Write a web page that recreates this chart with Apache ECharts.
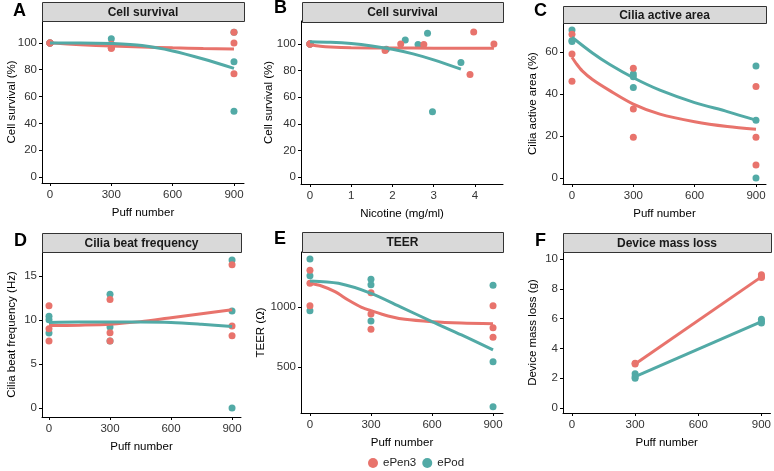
<!DOCTYPE html>
<html><head><meta charset="utf-8">
<script src="https://cdn.jsdelivr.net/npm/echarts@6/dist/echarts.min.js"></script>
<style>html,body{margin:0;padding:0;background:#fff}#c{width:774px;height:471px}</style>
</head><body><div id="c"></div>
<script>
// ---------------- data ----------------
const groups = ['ePen3', 'ePod'];
const panelTitles = ['Cell survival', 'Cell survival', 'Cilia active area', 'Cilia beat frequency', 'TEER', 'Device mass loss'];
const panelLetters = ['A', 'B', 'C', 'D', 'E', 'F'];
const xNames = ['Puff number', 'Nicotine (mg/ml)', 'Puff number', 'Puff number', 'Puff number', 'Puff number'];
const yNames = ['Cell survival (%)', 'Cell survival (%)', 'Cilia active area (%)', 'Cilia beat frequency (Hz)', 'TEER (\u03A9)', 'Device mass loss (g)'];
const puffTicks = [0, 300, 600, 900];
const nicotineTicks = [0, 1, 2, 3, 4];
const survivalTicks = [0, 20, 40, 60, 80, 100];
const ciliaAreaTicks = [0, 20, 40, 60];
const cbfTicks = [0, 5, 10, 15];
const teerTicks = [500, 1000];
const massTicks = [0, 2, 4, 6, 8, 10];

// A: cell survival vs puff number
const puffA = [0, 0, 0, 300, 300, 300, 900, 900, 900];
const survA_pen = [100, 100, 100, 99, 96, 96, 108, 100, 77];
const survA_pod = [100, 100, 100, 103, 99, 97, 108, 86, 49];
const fitA_x = [0, 150, 300, 450, 600, 750, 900];
const fitA_pen = [100, 98.6, 97.6, 96.9, 96.3, 95.8, 95.4];
const fitA_pod = [100, 100, 99.5, 98, 94, 88, 81];

// B: cell survival vs nicotine
const nicB_pen = [0, 0, 0, 1.82, 2.2, 2.76, 3.88, 3.97, 4.46];
const survB_pen = [100, 100, 100, 95, 100, 99.5, 77, 109, 100];
const nicB_pod = [0, 0, 0, 1.85, 2.31, 2.62, 2.85, 2.97, 3.66];
const survB_pod = [100, 100, 100, 96, 103, 99.5, 108, 49, 86];
const fitB_pen_x = [0, 0.25, 0.5, 1, 2, 3, 4, 4.46];
const fitB_pen = [99.3, 98.2, 97.6, 97.1, 96.9, 96.8, 96.7, 96.7];
const fitB_pod_x = [0, 0.5, 1, 1.5, 2, 2.5, 3, 3.66];
const fitB_pod = [101.7, 101.3, 100.3, 98.5, 96, 92.5, 88, 81];

// C: cilia active area
const puffC = [0, 0, 0, 300, 300, 300, 900, 900, 900];
const areaC_pen = [68.5, 59, 46, 52.3, 32.8, 19.4, 43.6, 19.4, 6.2];
const areaC_pod = [70.5, 65.5, 65, 49.5, 48.2, 43.1, 53.3, 27.5, 0];
const fitC_pen_x = [0, 20, 50, 100, 185, 300, 430, 600, 760, 900];
const fitC_pen = [57.5, 54.6, 51, 46.9, 41.6, 35.2, 30.4, 26.8, 24.5, 23.2];
const fitC_pod_x = [0, 100, 185, 300, 430, 600, 760, 900];
const fitC_pod = [67, 59.5, 54, 47.7, 41.8, 35.9, 31.6, 27.5];

// D: cilia beat frequency
const puffD = [0, 0, 0, 300, 300, 300, 900, 900, 900];
const cbfD_pen = [11.6, 9.0, 7.6, 12.3, 8.55, 7.6, 16.25, 9.3, 8.2];
const cbfD_pod = [10.4, 10.0, 8.5, 12.9, 9.2, 7.6, 16.8, 11.0, 0];
const fitD_x = [0, 150, 300, 450, 600, 750, 900];
const fitD_pen = [9.35, 9.4, 9.5, 9.8, 10.25, 10.7, 11.15];
const fitD_pod = [9.7, 9.75, 9.75, 9.75, 9.7, 9.5, 9.25];

// E: TEER
const puffE = [0, 0, 0, 300, 300, 300, 900, 900, 900];
const teerE_pen = [1306, 1197, 1011, 1119, 942, 814, 1011, 828, 747];
const teerE_pod = [1400, 1261, 969, 1231, 1186, 883, 1181, 544, 169];
const fitE_pen_x = [0, 57, 123, 188, 254, 300, 384, 467, 600, 744, 900];
const fitE_pen = [1197, 1175, 1128, 1058, 997, 969, 925, 897, 878, 867, 861];
const fitE_pod_x = [0, 140, 300, 450, 600, 745, 900];
const fitE_pod = [1217, 1197, 1114, 997, 878, 767, 642];

// F: device mass loss
const puffF_pen = [300, 300, 900, 900, 900];
const massF_pen = [3.0, 2.95, 8.95, 8.8, 8.75];
const puffF_pod = [300, 300, 300, 900, 900, 900];
const massF_pod = [2.3, 2.1, 2.0, 5.95, 5.8, 5.7];
const fitF_x = [300, 900];
const fitF_pen = [2.95, 8.8];
const fitF_pod = [2.1, 5.8];

// ---------------- layout / style ----------------
const colors = { ePen3: '#E8736C', ePod: '#52AAA6' };
const FONT = 'Liberation Sans, Arial, sans-serif';
const grids = [
  { left: 42, top: 21, width: 202, height: 162 },
  { left: 301, top: 21, width: 202, height: 163 },
  { left: 563, top: 23, width: 203, height: 161 },
  { left: 42, top: 252, width: 199, height: 165 },
  { left: 301, top: 252, width: 202, height: 161 },
  { left: 563, top: 252, width: 208, height: 161 }
];
const xRanges = [[-39, 949], [-0.218, 4.68], [-44, 949], [-34.4, 944], [-44, 949], [-42.6, 943]];
const yRanges = [[-4.4, 116.3], [-5.2, 117.2], [-2.9, 73.8], [-1.02, 17.7], [117, 1458], [-0.34, 10.47]];
const xTicks = [puffTicks, nicotineTicks, puffTicks, puffTicks, puffTicks, puffTicks];
const yTicks = [survivalTicks, survivalTicks, ciliaAreaTicks, cbfTicks, teerTicks, massTicks];
const yNameGaps = [24, 26, 24, 24, 34, 24];
const strips = [
  [42, 2, 202, 19], [302, 2, 201, 20], [563, 6, 203, 17],
  [42, 233, 199, 19], [302, 232, 201, 20], [563, 233, 208, 19]
];
const letterPos = [[13, 11], [274, 8], [534, 11], [14, 241], [274, 239], [535, 241]];

const axisCommon = {
  axisLine: { onZero: false, lineStyle: { color: '#000', width: 1 } },
  axisTick: { length: 3, lineStyle: { color: '#000' } },
  splitLine: { show: false },
  nameLocation: 'middle',
  nameMoveOverlap: false,
  nameTextStyle: { color: '#000', fontSize: 11.5, fontFamily: FONT }
};
const fmt = v => String(v);

const xAxes = grids.map((g, i) => Object.assign({}, axisCommon, {
  type: 'value', gridIndex: i, min: xRanges[i][0], max: xRanges[i][1],
  name: xNames[i], nameGap: 24,
  axisTick: Object.assign({}, axisCommon.axisTick, { customValues: xTicks[i] }),
  axisLabel: { customValues: xTicks[i], formatter: fmt, margin: 6, color: '#333', fontSize: 11.5, fontFamily: FONT }
}));
const yAxes = grids.map((g, i) => Object.assign({}, axisCommon, {
  type: 'value', gridIndex: i, min: yRanges[i][0], max: yRanges[i][1],
  name: yNames[i], nameGap: yNameGaps[i], nameRotate: 90,
  axisTick: Object.assign({}, axisCommon.axisTick, { customValues: yTicks[i] }),
  axisLabel: { customValues: yTicks[i], formatter: fmt, margin: 5, color: '#333', fontSize: 11.5, fontFamily: FONT }
}));

function pts(xs, ys) { return xs.map((x, i) => [x, ys[i]]); }
function scatter(name, idx, xs, ys) {
  return { type: 'scatter', name, xAxisIndex: idx, yAxisIndex: idx, data: pts(xs, ys),
    symbolSize: 7, itemStyle: { color: colors[name], opacity: 1 }, z: name === 'ePen3' ? 3 : 2, silent: true };
}
function fit(name, idx, xs, ys, smooth) {
  return { type: 'line', name, xAxisIndex: idx, yAxisIndex: idx, data: pts(xs, ys),
    showSymbol: false, symbol: 'none', smooth: smooth ? 0.3 : false,
    lineStyle: { color: colors[name], width: 3 }, itemStyle: { color: colors[name] }, z: name === 'ePen3' ? 4 : 5, silent: true };
}

const series = [
  scatter('ePod', 0, puffA, survA_pod), scatter('ePen3', 0, puffA, survA_pen),
  fit('ePen3', 0, fitA_x, fitA_pen, true), fit('ePod', 0, fitA_x, fitA_pod, true),

  scatter('ePod', 1, nicB_pod, survB_pod), scatter('ePen3', 1, nicB_pen, survB_pen),
  fit('ePen3', 1, fitB_pen_x, fitB_pen, true), fit('ePod', 1, fitB_pod_x, fitB_pod, true),

  scatter('ePod', 2, puffC, areaC_pod), scatter('ePen3', 2, puffC, areaC_pen),
  fit('ePen3', 2, fitC_pen_x, fitC_pen, true), fit('ePod', 2, fitC_pod_x, fitC_pod, true),

  scatter('ePod', 3, puffD, cbfD_pod), scatter('ePen3', 3, puffD, cbfD_pen),
  fit('ePen3', 3, fitD_x, fitD_pen, true), fit('ePod', 3, fitD_x, fitD_pod, true),

  scatter('ePod', 4, puffE, teerE_pod), scatter('ePen3', 4, puffE, teerE_pen),
  fit('ePen3', 4, fitE_pen_x, fitE_pen, true), fit('ePod', 4, fitE_pod_x, fitE_pod, true),

  scatter('ePod', 5, puffF_pod, massF_pod), scatter('ePen3', 5, puffF_pen, massF_pen),
  fit('ePen3', 5, fitF_x, fitF_pen, false), fit('ePod', 5, fitF_x, fitF_pod, false)
];

const graphic = [];
strips.forEach((s, i) => {
  graphic.push({ type: 'rect', shape: { x: s[0] + 0.5, y: s[1] + 0.5, width: s[2], height: s[3] },
    style: { fill: '#D9D9D9', stroke: '#333', lineWidth: 1 }, z: 10 });
  graphic.push({ type: 'text', x: s[0] + s[2] / 2, y: s[1] + s[3] / 2 + 1,
    style: { text: panelTitles[i], fill: '#1a1a1a', font: 'bold 12px ' + FONT, textAlign: 'center', textVerticalAlign: 'middle' }, z: 11 });
});
letterPos.forEach((p, i) => {
  graphic.push({ type: 'text', x: p[0], y: p[1],
    style: { text: panelLetters[i], fill: '#000', font: 'bold 18px ' + FONT, textAlign: 'left', textVerticalAlign: 'middle' }, z: 11 });
});

const chart = echarts.init(document.getElementById('c'), null, { renderer: 'canvas' });
chart.setOption({
  animation: false,
  backgroundColor: '#fff',
  textStyle: { fontFamily: FONT },
  grid: grids,
  xAxis: xAxes,
  yAxis: yAxes,
  legend: {
    data: groups.map(g => ({ name: g, icon: 'circle' })),
    left: 363, top: 452, itemWidth: 10, itemHeight: 10, itemGap: 6,
    textStyle: { color: '#222', fontSize: 11.5, fontFamily: FONT },
    selectedMode: false
  },
  series,
  graphic
});
</script>
</body></html>
